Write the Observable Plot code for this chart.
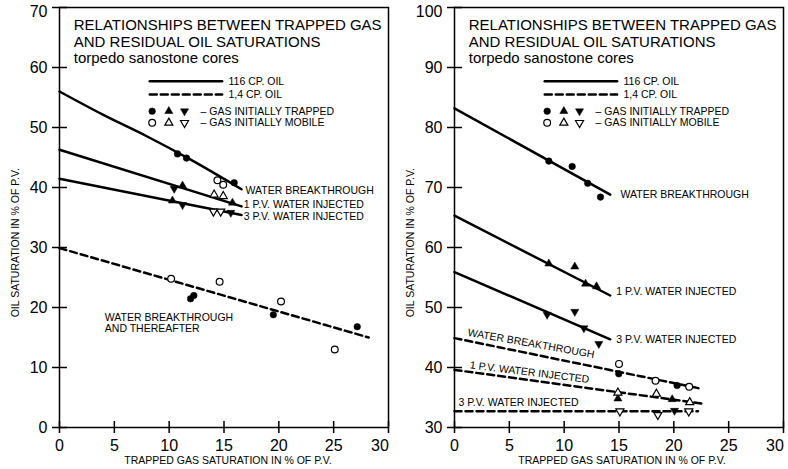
<!DOCTYPE html>
<html>
<head>
<meta charset="utf-8">
<script src="https://cdn.jsdelivr.net/npm/d3@7"></script>
<script src="https://cdn.jsdelivr.net/npm/@observablehq/plot@0.6"></script>
<style>
  body { margin: 0; background: #fff; }
  #chart { display: flex; width: 788px; height: 469px; }
  #chart svg { overflow: visible; }
</style>
</head>
<body>
<div id="chart"></div>
<script>
// ---- shared text and ticks ----
const xTicks = [0, 5, 10, 15, 20, 25, 30];
const leftYTicks = [0, 10, 20, 30, 40, 50, 60, 70];
const rightYTicks = [30, 40, 50, 60, 70, 80, 90, 100];
const titleText = "RELATIONSHIPS BETWEEN TRAPPED GAS\nAND RESIDUAL OIL SATURATIONS\ntorpedo sanostone cores";
const xLabel = "TRAPPED GAS SATURATION IN % OF P.V.";
const yLabel = "OIL SATURATION IN % OF P.V.";
const legendLineText = ["116 CP. OIL", "1,4 CP. OIL"];
const legendMarkerText = ["– GAS INITIALLY TRAPPED", "– GAS INITIALLY MOBILE"];

// ---- left panel: 116 cp oil curves and the single 1.4 cp oil line ----
const lWbX = [0, 4, 8, 12, 16.6];
const lWbY = [56.0, 52.1, 48.5, 44.6, 39.7];
const l1pvX = [0, 16.6];
const l1pvY = [46.3, 36.85];
const l3pvX = [0, 16.6];
const l3pvY = [41.45, 35.4];
const lLowX = [0, 28.2];
const lLowY = [29.9, 15.0];

const lCircleX = [10.76, 11.58, 15.93, 11.95, 12.25, 19.5, 27.15];
const lCircleY = [45.6, 44.9, 40.8, 21.45, 22.0, 18.8, 16.8];
const lOpenCircleX = [14.4, 14.93, 10.18, 14.6, 20.2, 25.1];
const lOpenCircleY = [41.2, 40.45, 24.8, 24.3, 21.0, 13.0];
const lUpX = [11.22, 15.77, 10.3];
const lUpY = [40.3, 37.45, 37.8];
const lOpenUpX = [14.1, 14.93];
const lOpenUpY = [38.8, 38.55];
const lDownX = [10.46, 11.22, 15.62];
const lDownY = [39.8, 37.1, 35.8];
const lOpenDownX = [14.04, 14.7];
const lOpenDownY = [36.0, 36.0];

const lNoteText = ["WATER BREAKTHROUGH", "1 P.V. WATER INJECTED", "3 P.V. WATER INJECTED", "WATER BREAKTHROUGH\nAND THEREAFTER"];
const lNoteX = [16.96, 16.8, 16.8, 4.13];
const lNoteY = [39.5, 37.2, 35.2, 17.37];

// ---- right panel: straight fits for both oils ----
const rWb116X = [0, 14.2];
const rWb116Y = [83.2, 68.8];
const r1pv116X = [0, 14.2];
const r1pv116Y = [65.3, 52.0];
const r3pv116X = [0, 14.2];
const r3pv116Y = [55.9, 44.7];
const rWb14X = [0, 22.4];
const rWb14Y = [44.9, 36.5];
const r1pv14X = [0, 22.5];
const r1pv14Y = [39.6, 34.0];
const r3pv14X = [0, 22.2];
const r3pv14Y = [32.7, 32.7];

const rCircleX = [8.6, 10.73, 12.15, 13.31, 14.98, 20.3];
const rCircleY = [74.4, 73.5, 70.7, 68.4, 38.95, 37.0];
const rOpenCircleX = [15.0, 18.33, 21.4];
const rOpenCircleY = [40.6, 37.8, 36.8];
const rUpX = [8.6, 10.97, 11.95, 12.95, 14.9, 19.85];
const rUpY = [57.3, 56.8, 53.95, 53.5, 34.8, 34.7];
const rOpenUpX = [14.9, 18.41, 21.45];
const rOpenUpY = [35.8, 35.6, 34.2];
const rDownX = [8.45, 10.97, 11.8, 13.16, 20.06];
const rDownY = [48.8, 49.3, 46.55, 43.95, 32.8];
const rOpenDownX = [15.08, 18.54, 21.36];
const rOpenDownY = [32.7, 32.1, 32.7];

const rNoteText = ["WATER BREAKTHROUGH", "1 P.V. WATER INJECTED", "3 P.V. WATER INJECTED", "3 P.V. WATER INJECTED"];
const rNoteX = [15.14, 14.74, 14.74, 0.36];
const rNoteY = [68.8, 52.7, 44.6, 34.2];
const rTiltText = ["WATER BREAKTHROUGH", "1 P.V. WATER INJECTED"];
const rTiltX = [6.98, 6.84];
const rTiltY = [44.0, 39.2];
const rTiltAngle = [10, 7];

// ---- label and legend placement (x in % trapped gas, y above the panel's y minimum) ----
const legendSampleX = [8.23, 14.83];
const legendTextX = 15.41;
const legendRowY = [57.72, 55.5, 52.72, 50.78];
const legendSymbolX = [8.45, 9.97, 11.4];
const legendMarkerTextX = 12.86;
const titleX = 1.3;
const titleY = 68.23;
const yLabelX = -4.0;
const yLabelY = 30.8;

const FONT = "'Liberation Sans', Arial, Helvetica, sans-serif";
const pts = (xs, ys) => xs.map((x, i) => ({x, y: ys[i]}));
const notes = (t, xs, ys, extra = []) => t.map((text, i) => ({text, x: xs[i], y: ys[i], a: extra[i]}));

const SOLID = {x: "x", y: "y", stroke: "black", strokeWidth: 2.5};
const DASHED = {...SOLID, strokeDasharray: "7,4"};
const filled = (shape, rot = 0) => ({x: "x", y: "y", symbol: shape, fill: "black", stroke: "black", strokeWidth: 0.5, r: shape === "circle" ? 3.3 : 3.0, rotate: rot});
const hollow = (shape, rot = 0) => ({x: "x", y: "y", symbol: shape, fill: "white", stroke: "black", strokeWidth: 1.2, r: shape === "circle" ? 3.4 : 3.0, rotate: rot});

function panel(cfg) {
  const base = cfg.yDomain[0];
  const yTicks = cfg.yTicks;
  const marks = [
    Plot.frame({stroke: "black", strokeWidth: 1.5}),
    // ticks straddle the axis lines
    Plot.axisY({ticks: yTicks, tickSize: 15, dx: 8, tickFormat: () => "", label: null, strokeWidth: 1.5}),
    Plot.axisY({ticks: yTicks.slice(0, -1), tickSize: 0, tickPadding: 12, fontSize: 16, label: null}),
    Plot.axisY({ticks: yTicks.slice(-1), tickSize: 0, tickPadding: 12, fontSize: 16, label: null, dy: 4}),
    Plot.axisX({ticks: xTicks, tickSize: 12, dy: -6, tickFormat: () => "", label: null, strokeWidth: 1.5}),
    Plot.axisX({ticks: xTicks.slice(0, -1), tickSize: 0, tickPadding: 12, fontSize: 16, label: null}),
    Plot.axisX({ticks: xTicks.slice(-1), tickSize: 0, tickPadding: 12, fontSize: 16, label: null, dx: -8.5}),
    Plot.text([xLabel], {text: d => d, frameAnchor: "bottom", dx: cfg.xLabelDx, dy: 36, fontSize: 10.5}),
    Plot.text([yLabel], {text: d => d, x: yLabelX, y: base + yLabelY, rotate: -90, fontSize: 10.5}),
    // title block
    Plot.text([titleText], {text: d => d, x: titleX, y: base + titleY, textAnchor: "start", lineAnchor: "top", fontSize: 15, lineHeight: 1.11}),
    // legend
    Plot.line(pts(legendSampleX, [base + legendRowY[0], base + legendRowY[0]]), SOLID),
    Plot.line(pts(legendSampleX, [base + legendRowY[1], base + legendRowY[1]]), DASHED),
    Plot.text(legendLineText, {text: d => d, x: legendTextX, y: (d, i) => base + legendRowY[i], textAnchor: "start", fontSize: 10.5}),
    Plot.dot([{x: legendSymbolX[0], y: base + legendRowY[2]}], filled("circle")),
    Plot.dot([{x: legendSymbolX[1], y: base + legendRowY[2]}], filled("triangle")),
    Plot.dot([{x: legendSymbolX[2], y: base + legendRowY[2]}], filled("triangle", 180)),
    Plot.dot([{x: legendSymbolX[0], y: base + legendRowY[3]}], hollow("circle")),
    Plot.dot([{x: legendSymbolX[1], y: base + legendRowY[3]}], hollow("triangle")),
    Plot.dot([{x: legendSymbolX[2], y: base + legendRowY[3]}], hollow("triangle", 180)),
    Plot.text(legendMarkerText, {text: d => d, x: legendMarkerTextX, y: (d, i) => base + legendRowY[i + 2], textAnchor: "start", fontSize: 10.5}),
    // fitted lines
    ...cfg.solid.map(d => Plot.line(d, {...SOLID, curve: "monotone-x"})),
    ...cfg.dashed.map(d => Plot.line(d, DASHED)),
    // measurements
    Plot.dot(cfg.circles, filled("circle")),
    Plot.dot(cfg.openCircles, hollow("circle")),
    Plot.dot(cfg.ups, filled("triangle")),
    Plot.dot(cfg.openUps, hollow("triangle")),
    Plot.dot(cfg.downs, filled("triangle", 180)),
    Plot.dot(cfg.openDowns, hollow("triangle", 180)),
    // curve labels
    Plot.text(cfg.notes, {x: "x", y: "y", text: "text", textAnchor: "start", lineAnchor: "middle", fontSize: 10.5, lineHeight: 1.05}),
    Plot.text(cfg.tilted, {x: "x", y: "y", text: "text", rotate: "a", textAnchor: "middle", fontSize: 10.5})
  ];
  return Plot.plot({
    width: 394,
    height: 469,
    marginLeft: cfg.marginLeft,
    marginRight: cfg.marginRight,
    marginTop: 7,
    marginBottom: 42,
    x: {domain: [0, 30]},
    y: {domain: cfg.yDomain},
    style: {fontFamily: FONT, color: "black", background: "white", overflow: "visible"},
    marks
  });
}

const left = panel({
  yDomain: [0, 70], yTicks: leftYTicks, marginLeft: 59, marginRight: 6, xLabelDx: 4,
  solid: [pts(lWbX, lWbY), pts(l1pvX, l1pvY), pts(l3pvX, l3pvY)],
  dashed: [pts(lLowX, lLowY)],
  circles: pts(lCircleX, lCircleY), openCircles: pts(lOpenCircleX, lOpenCircleY),
  ups: pts(lUpX, lUpY), openUps: pts(lOpenUpX, lOpenUpY),
  downs: pts(lDownX, lDownY), openDowns: pts(lOpenDownX, lOpenDownY),
  notes: notes(lNoteText, lNoteX, lNoteY), tilted: []
});

const right = panel({
  yDomain: [30, 100], yTicks: rightYTicks, marginLeft: 60, marginRight: 5, xLabelDx: 3,
  solid: [pts(rWb116X, rWb116Y), pts(r1pv116X, r1pv116Y), pts(r3pv116X, r3pv116Y)],
  dashed: [pts(rWb14X, rWb14Y), pts(r1pv14X, r1pv14Y), pts(r3pv14X, r3pv14Y)],
  circles: pts(rCircleX, rCircleY), openCircles: pts(rOpenCircleX, rOpenCircleY),
  ups: pts(rUpX, rUpY), openUps: pts(rOpenUpX, rOpenUpY),
  downs: pts(rDownX, rDownY), openDowns: pts(rOpenDownX, rOpenDownY),
  notes: notes(rNoteText, rNoteX, rNoteY), tilted: notes(rTiltText, rTiltX, rTiltY, rTiltAngle)
});

document.getElementById("chart").append(left, right);
</script>
</body>
</html>
